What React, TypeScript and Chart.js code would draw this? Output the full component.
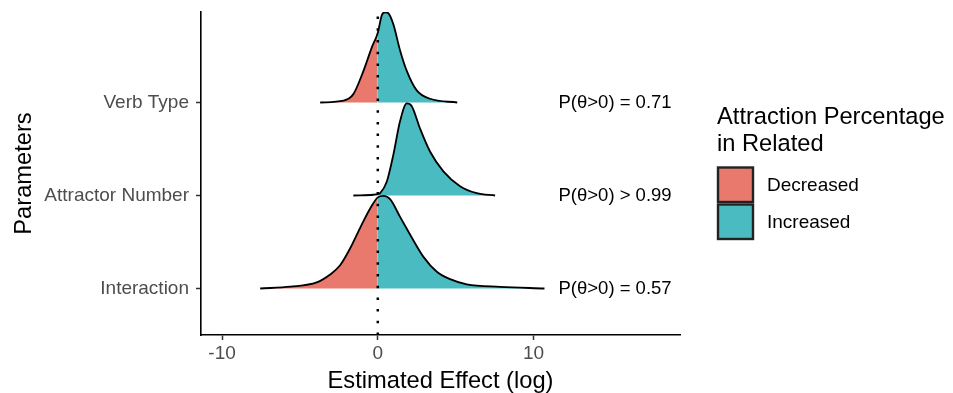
import React, { useEffect, useRef } from "react";
import { Chart, registerables } from "chart.js";

Chart.register(...registerables);

// y positions 1, 2, 3 (bottom to top)
const categories = ["Interaction", "Attractor Number", "Verb Type"];
const xTickValues = [-10, 0, 10];
const probLabels = ["P(θ>0) = 0.57", "P(θ>0) > 0.99", "P(θ>0) = 0.71"];
const probLabelX = 11.6;

// Posterior density ridges (x = estimated effect, h = relative ridge height)
const interactionX = [-7.55, -5.6, -3.92, -3.06, -2.42, -1.78, -1.14, -0.49, 0, 0.36, 0.79, 1.43, 2.07, 2.93, 3.79, 4.64, 5.71, 7.85, 10.7];
const interactionH = [0, 0.02, 0.065, 0.15, 0.25, 0.43, 0.65, 0.86, 0.98, 0.995, 0.96, 0.77, 0.58, 0.34, 0.18, 0.1, 0.045, 0.018, 0];

const attractorX = [-1.57, -0.28, 0, 0.15, 0.58, 1.0, 1.43, 1.86, 2.18, 2.71, 3.36, 4.21, 5.28, 6.35, 7.53];
const attractorH = [0, 0.008, 0.015, 0.025, 0.15, 0.44, 0.8, 0.99, 0.96, 0.72, 0.47, 0.26, 0.1, 0.025, 0];

const verbX = [-3.7, -2.2, -1.57, -0.92, -0.39, 0, 0.26, 0.47, 0.68, 1.0, 1.43, 1.86, 2.5, 3.36, 5.1];
const verbH = [0, 0.02, 0.09, 0.34, 0.59, 0.75, 0.94, 0.97, 0.96, 0.84, 0.56, 0.34, 0.13, 0.04, 0];

const legendTitle = ["Attraction Percentage", "in Related"];
const legendLabels = ["Decreased", "Increased"];

const X_MIN = -11.35;
const X_MAX = 19.4;
const Y_MIN = 0.5;
const Y_MAX = 3.973;

const RED = "#E9786D";
const CYAN = "#4BBBC2";
const FONT = '"Liberation Sans", Arial, Helvetica, sans-serif';

const ridges = [
  { xs: interactionX, hs: interactionH },
  { xs: attractorX, hs: attractorH },
  { xs: verbX, hs: verbH },
];

function buildDatasets() {
  const ds: any[] = [];
  ds.push({
    label: "zero",
    data: [
      { x: 0, y: Y_MIN },
      { x: 0, y: Y_MAX },
    ],
    borderColor: "#000",
    borderWidth: 2.5,
    borderDash: [2.5, 9.2],
    pointRadius: 0,
    fill: false,
    order: 0,
  });
  ridges.forEach((r, i) => {
    const base = i + 1;
    const pts = r.xs.map((x, k) => ({ x, y: base + r.hs[k] }));
    const neg = pts.filter((p) => p.x <= 0);
    const pos = pts.filter((p) => p.x >= 0);
    const layer = i * 3; // lower ridges drawn on top
    ds.push({
      label: categories[i] + " outline",
      data: pts,
      borderColor: "#000",
      borderWidth: 1.8,
      pointRadius: 0,
      fill: false,
      cubicInterpolationMode: "monotone",
      order: 1 + layer,
    });
    ds.push({
      label: categories[i] + " increased",
      data: pos,
      borderWidth: 0,
      borderColor: "rgba(0,0,0,0)",
      backgroundColor: CYAN,
      pointRadius: 0,
      fill: { value: base },
      cubicInterpolationMode: "monotone",
      order: 2 + layer,
    });
    ds.push({
      label: categories[i] + " decreased",
      data: neg,
      borderWidth: 0,
      borderColor: "rgba(0,0,0,0)",
      backgroundColor: RED,
      pointRadius: 0,
      fill: { value: base },
      cubicInterpolationMode: "monotone",
      order: 3 + layer,
    });
  });
  return ds;
}

const overlayPlugin = {
  id: "overlay",
  afterDraw(chart: any) {
    const { ctx, scales } = chart;
    const xs = scales.x;
    const ys = scales.y;
    ctx.save();
    // probability annotations
    ctx.font = `18.5px ${FONT}`;
    ctx.fillStyle = "#000";
    ctx.textAlign = "left";
    ctx.textBaseline = "middle";
    probLabels.forEach((t, i) => {
      ctx.fillText(t, xs.getPixelForValue(probLabelX), ys.getPixelForValue(i + 1));
    });
    // legend
    ctx.font = `23.7px ${FONT}`;
    ctx.fillStyle = "#000";
    ctx.fillText(legendTitle[0], 717, 117);
    ctx.fillText(legendTitle[1], 717, 144);
    const colors = [RED, CYAN];
    legendLabels.forEach((lab, i) => {
      const top = 167.5 + i * 37;
      ctx.fillStyle = colors[i];
      ctx.fillRect(718, top, 35, 34.5);
      ctx.strokeStyle = "#222";
      ctx.lineWidth = 2.4;
      ctx.strokeRect(718, top, 35, 34.5);
      ctx.fillStyle = "#000";
      ctx.font = `19px ${FONT}`;
      ctx.fillText(lab, 767, top + 18);
    });
    ctx.restore();
  },
};

export default function App() {
  const canvasRef = useRef<HTMLCanvasElement | null>(null);

  useEffect(() => {
    if (!canvasRef.current) return;
    const chart = new Chart(canvasRef.current, {
      type: "line",
      data: { datasets: buildDatasets() },
      options: {
        responsive: false,
        animation: false,
        devicePixelRatio: 1,
        layout: { padding: { top: 12, right: 273, bottom: 0, left: 0 } },
        plugins: {
          legend: { display: false },
          tooltip: { enabled: false },
        },
        scales: {
          x: {
            type: "linear",
            min: X_MIN,
            max: X_MAX,
            afterBuildTicks: (s: any) => {
              s.ticks = xTickValues.map((v) => ({ value: v }));
            },
            afterFit: (s: any) => {
              s.height = 58;
              s.paddingLeft = 0;
              s.paddingRight = 0;
            },
            grid: {
              display: true,
              drawOnChartArea: false,
              drawTicks: true,
              tickLength: 5,
              tickWidth: 1.5,
              tickColor: "#333",
            },
            border: { display: true, color: "#000", width: 1.6 },
            ticks: {
              color: "#4d4d4d",
              font: { family: FONT, size: 19 },
              padding: 2,
              maxRotation: 0,
              callback: (v: any) => String(v),
            },
            title: {
              display: true,
              text: "Estimated Effect (log)",
              color: "#000",
              font: { family: FONT, size: 23.7, lineHeight: 1 },
              padding: { top: 0, bottom: 0 },
            },
          },
          y: {
            type: "linear",
            min: Y_MIN,
            max: Y_MAX,
            afterBuildTicks: (s: any) => {
              s.ticks = categories.map((_, i) => ({ value: i + 1 }));
            },
            afterFit: (s: any) => {
              s.width = 201;
              s.paddingTop = 0;
              s.paddingBottom = 0;
            },
            grid: {
              display: true,
              drawOnChartArea: false,
              drawTicks: true,
              tickLength: 5,
              tickWidth: 1.5,
              tickColor: "#333",
            },
            border: { display: true, color: "#000", width: 1.6 },
            ticks: {
              color: "#4d4d4d",
              font: { family: FONT, size: 19 },
              padding: 7,
              callback: (v: any) => categories[Math.round(v) - 1] ?? "",
            },
            title: {
              display: true,
              text: "Parameters",
              color: "#000",
              font: { family: FONT, size: 23.7, lineHeight: 1 },
              padding: { top: 13, bottom: 0 },
            },
          },
        },
      },
      plugins: [overlayPlugin],
    } as any);
    return () => chart.destroy();
  }, []);

  return (
    <div style={{ position: "absolute", left: 0, top: 0, width: 953, height: 393, background: "#fff" }}>
      <canvas ref={canvasRef} width={953} height={393} style={{ display: "block" }} />
    </div>
  );
}
